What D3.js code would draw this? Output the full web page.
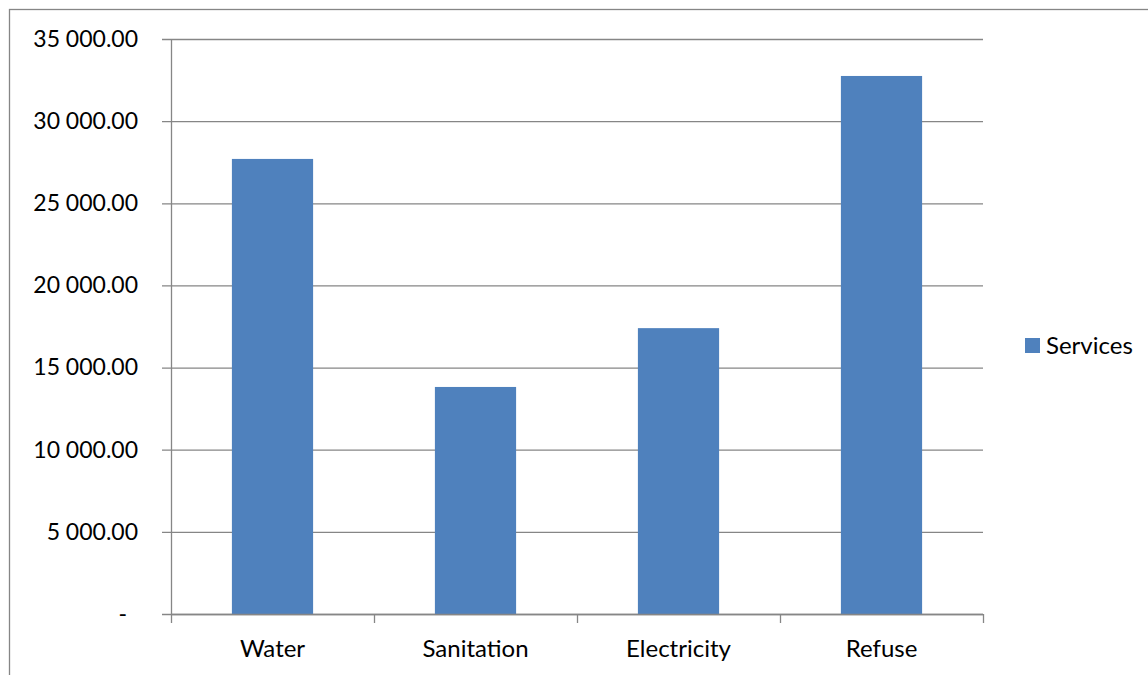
<!DOCTYPE html>
<html>
<head>
<meta charset="utf-8">
<script src="https://cdn.jsdelivr.net/npm/d3@7"></script>
<style>
  html, body { margin: 0; padding: 0; background: #fff; }
  svg { display: block; }
  text { font-family: Lato, "Open Sans", sans-serif; fill: #000; }
</style>
</head>
<body>
<svg id="chart" width="1148" height="675"></svg>
<script>
// Service values per category
const categories = ["Water", "Sanitation", "Electricity", "Refuse"];
const values = [27700, 13820, 17400, 32750];
const seriesName = "Services";
const yTicks = [0, 5000, 10000, 15000, 20000, 25000, 30000, 35000];

const svg = d3.select("#chart");
const W = 1148, H = 675;
const plot = { left: 171, right: 983, top: 39, bottom: 614 };
const axisColor = "#868686";
const barColor = "#4F81BD";

// Outer chart frame
svg.append("rect")
  .attr("x", 9.5).attr("y", 9.5)
  .attr("width", W + 10).attr("height", H + 10)
  .attr("fill", "none").attr("stroke", axisColor).attr("stroke-width", 1.3);

const x = d3.scaleBand()
  .domain(categories)
  .range([plot.left, plot.right])
  .paddingInner(0.6)
  .paddingOuter(0.3);

const y = d3.scaleLinear()
  .domain([0, 35000])
  .range([plot.bottom, plot.top]);

const fmt = v => v === 0 ? "-" : d3.format(",.2f")(v).replace(/,/g, " ");

// Horizontal gridlines with left tick marks
const yAxis = d3.axisLeft(y)
  .tickValues(yTicks)
  .tickSize(-(plot.right - plot.left))
  .tickFormat(fmt);

const gy = svg.append("g")
  .attr("transform", `translate(${plot.left},0)`)
  .call(yAxis);
gy.select(".domain").remove();
gy.selectAll(".tick line")
  .attr("x1", -9)
  .attr("stroke", axisColor).attr("stroke-width", 1.3);
gy.selectAll(".tick text")
  .attr("font-size", 23)
  .attr("x", d => d === 0 ? -44 : -33)
  .style("font-family", "Lato, sans-serif");

// Vertical axis line
svg.append("line")
  .attr("x1", plot.left + 0.5).attr("x2", plot.left + 0.5)
  .attr("y1", plot.top).attr("y2", plot.bottom)
  .attr("stroke", axisColor).attr("stroke-width", 1.3);

// Bars
svg.append("g").selectAll("rect")
  .data(categories)
  .join("rect")
  .attr("x", d => x(d))
  .attr("width", x.bandwidth())
  .attr("y", (d, i) => y(values[i]))
  .attr("height", (d, i) => y(0) - y(values[i]))
  .attr("fill", barColor);

// Category axis baseline and boundary ticks
svg.append("line")
  .attr("x1", plot.left).attr("x2", plot.right)
  .attr("y1", plot.bottom + 0.5).attr("y2", plot.bottom + 0.5)
  .attr("stroke", axisColor).attr("stroke-width", 1.3);

const bounds = d3.range(categories.length + 1).map(i => plot.left + i * (plot.right - plot.left) / categories.length);
svg.append("g").selectAll("line")
  .data(bounds)
  .join("line")
  .attr("x1", d => d + 0.5).attr("x2", d => d + 0.5)
  .attr("y1", plot.bottom).attr("y2", plot.bottom + 9)
  .attr("stroke", axisColor).attr("stroke-width", 1.3);

svg.append("g").selectAll("text")
  .data(categories)
  .join("text")
  .attr("x", d => x(d) + x.bandwidth() / 2)
  .attr("y", 657)
  .attr("text-anchor", "middle")
  .attr("font-size", 24)
  .text(d => d);

// Legend
const lg = svg.append("g").attr("transform", "translate(1025,338)");
lg.append("rect").attr("width", 15).attr("height", 15).attr("fill", barColor);
lg.append("text").attr("x", 21).attr("y", 15.5).attr("font-size", 24).text(seriesName);
</script>
</body>
</html>
